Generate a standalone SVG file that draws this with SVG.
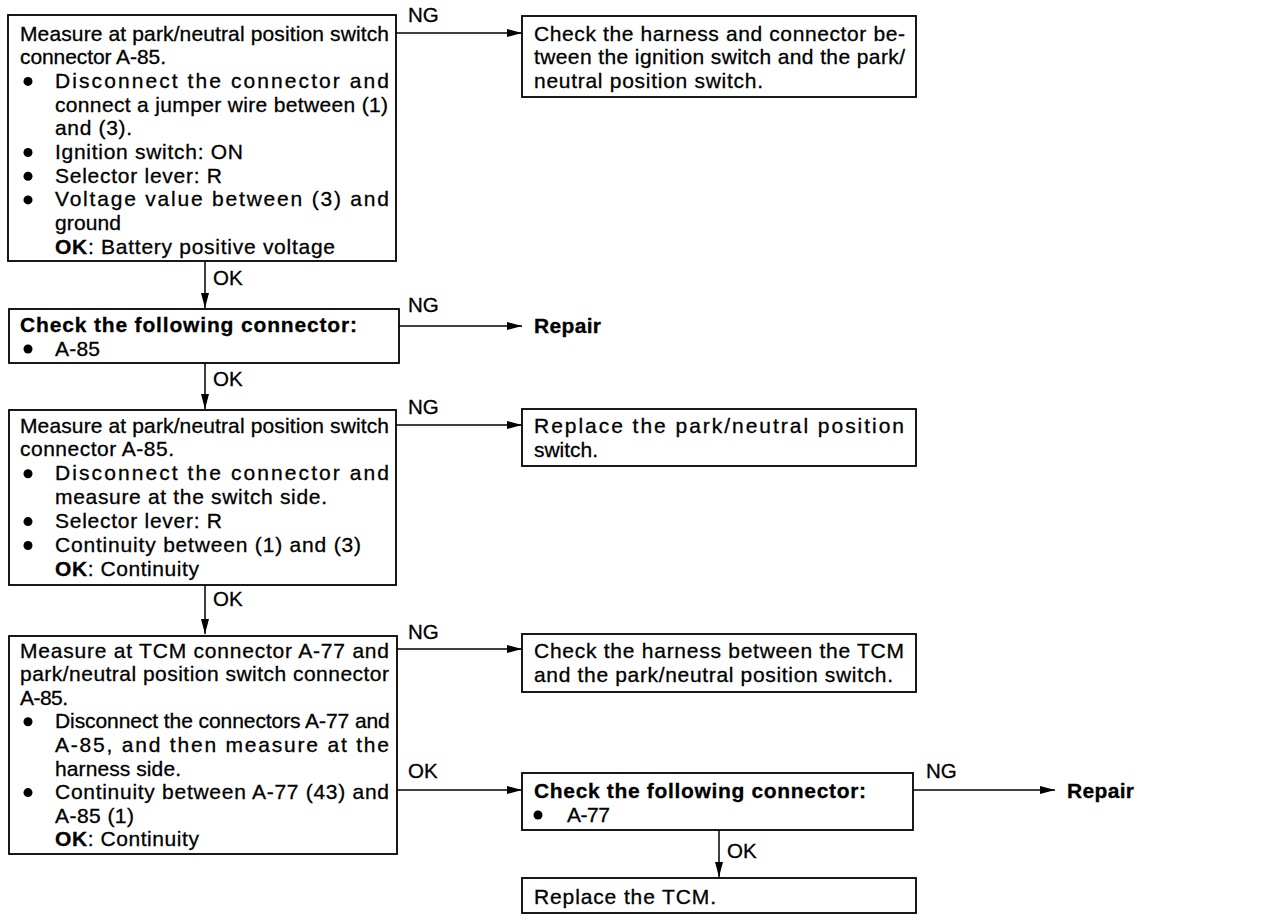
<svg xmlns="http://www.w3.org/2000/svg" width="1280" height="922" viewBox="0 0 1280 922">
<style>
.bg{fill:#fff}
.box{fill:#fff;stroke:#000;stroke-width:1.8}
.t{font-family:"Liberation Sans",Arial,Helvetica,sans-serif;font-size:21px;fill:#000;stroke:#000;stroke-width:0.3}
.b{font-weight:bold}
.lbl{font-family:"Liberation Sans",Arial,Helvetica,sans-serif;font-size:20.5px;fill:#000;stroke:#000;stroke-width:0.3}
.con{stroke:#000;stroke-width:1.5;fill:none;marker-end:url(#ah)}
.dot{fill:#000}
</style>
<defs>
<marker id="ah" markerWidth="16" markerHeight="10" refX="15" refY="5" orient="auto" markerUnits="userSpaceOnUse">
<path d="M0,1 L15,5 L0,9 z" fill="#000"/>
</marker>
</defs>
<rect class="bg" x="0" y="0" width="1280" height="922"/>

<g id="connectors">
<path class="con" d="M396,33 H522"/>
<path class="con" d="M205,261 V308"/>
<path class="con" d="M399,326 H522"/>
<path class="con" d="M205,363 V409"/>
<path class="con" d="M396,425 H522"/>
<path class="con" d="M205,585 V634"/>
<path class="con" d="M397,649 H522"/>
<path class="con" d="M397,790 H522"/>
<path class="con" d="M913,790 H1055"/>
<path class="con" d="M719,830 V877"/>
<text class="lbl" x="408" y="22">NG</text>
<text class="lbl" x="213" y="285">OK</text>
<text class="lbl" x="408" y="312">NG</text>
<text class="lbl" x="213" y="386">OK</text>
<text class="lbl" x="408" y="414">NG</text>
<text class="lbl" x="213" y="606">OK</text>
<text class="lbl" x="408" y="639">NG</text>
<text class="lbl" x="408" y="778">OK</text>
<text class="lbl" x="926" y="778">NG</text>
<text class="lbl" x="727" y="858">OK</text>
</g>

<g id="node-measure-voltage">
<rect class="box" x="8" y="15" width="388" height="246"/>
<text class="t" x="20" y="40.5" textLength="369" lengthAdjust="spacing">Measure at park/neutral position switch</text>
<text class="t" x="20" y="64.2" textLength="146" lengthAdjust="spacing">connector A-85.</text>
<circle class="dot" cx="28" cy="81.4" r="4.5"/>
<text class="t" x="55" y="87.9" textLength="334" lengthAdjust="spacing">Disconnect the connector and</text>
<text class="t" x="55" y="111.6" textLength="333" lengthAdjust="spacing">connect a jumper wire between (1)</text>
<text class="t" x="55" y="135.3" textLength="77" lengthAdjust="spacing">and (3).</text>
<circle class="dot" cx="28" cy="152.5" r="4.5"/>
<text class="t" x="55" y="159" textLength="188" lengthAdjust="spacing">Ignition switch: ON</text>
<circle class="dot" cx="28" cy="176.2" r="4.5"/>
<text class="t" x="55" y="182.7" textLength="167" lengthAdjust="spacing">Selector lever: R</text>
<circle class="dot" cx="28" cy="199.9" r="4.5"/>
<text class="t" x="55" y="206.4" textLength="334" lengthAdjust="spacing">Voltage value between (3) and</text>
<text class="t" x="55" y="230.1" textLength="66" lengthAdjust="spacing">ground</text>
<text class="t" x="55" y="253.8" textLength="280" lengthAdjust="spacing"><tspan class="b">OK</tspan>: Battery positive voltage</text>
</g>

<g id="node-check-harness-ign">
<rect class="box" x="522" y="16" width="394" height="81"/>
<text class="t" x="534" y="40.5" textLength="371" lengthAdjust="spacing">Check the harness and connector be-</text>
<text class="t" x="534" y="64" textLength="371" lengthAdjust="spacing">tween the ignition switch and the park/</text>
<text class="t" x="534" y="87.5" textLength="229" lengthAdjust="spacing">neutral position switch.</text>
</g>

<g id="node-check-a85">
<rect class="box" x="9" y="309" width="390" height="54"/>
<text class="t b" x="20" y="331.5" textLength="337" lengthAdjust="spacing">Check the following connector:</text>
<circle class="dot" cx="28" cy="349" r="4.5"/>
<text class="t" x="55" y="355.5" textLength="45" lengthAdjust="spacing">A-85</text>
</g>

<text class="t b" x="534" y="333" id="node-repair-1" textLength="67" lengthAdjust="spacing">Repair</text>

<g id="node-measure-continuity">
<rect class="box" x="9" y="410" width="387" height="175"/>
<text class="t" x="20" y="432.5" textLength="369" lengthAdjust="spacing">Measure at park/neutral position switch</text>
<text class="t" x="20" y="456.4" textLength="154" lengthAdjust="spacing">connector A-85.</text>
<circle class="dot" cx="28" cy="473.8" r="4.5"/>
<text class="t" x="55" y="480.3" textLength="334" lengthAdjust="spacing">Disconnect the connector and</text>
<text class="t" x="55" y="504.2" textLength="272" lengthAdjust="spacing">measure at the switch side.</text>
<circle class="dot" cx="28" cy="521.6" r="4.5"/>
<text class="t" x="55" y="528.1" textLength="167" lengthAdjust="spacing">Selector lever: R</text>
<circle class="dot" cx="28" cy="545.5" r="4.5"/>
<text class="t" x="55" y="552" textLength="306" lengthAdjust="spacing">Continuity between (1) and (3)</text>
<text class="t" x="55" y="576" textLength="144" lengthAdjust="spacing"><tspan class="b">OK</tspan>: Continuity</text>
</g>

<g id="node-replace-switch">
<rect class="box" x="522" y="409" width="394" height="57"/>
<text class="t" x="534" y="433" textLength="370" lengthAdjust="spacing">Replace the park/neutral position</text>
<text class="t" x="534" y="457" textLength="64" lengthAdjust="spacing">switch.</text>
</g>

<g id="node-measure-tcm">
<rect class="box" x="9" y="636" width="388" height="218"/>
<text class="t" x="20" y="657.5" textLength="369" lengthAdjust="spacing">Measure at TCM connector A-77 and</text>
<text class="t" x="20" y="681.1" textLength="369" lengthAdjust="spacing">park/neutral position switch connector</text>
<text class="t" x="20" y="704.7" textLength="48" lengthAdjust="spacing">A-85.</text>
<circle class="dot" cx="28" cy="721.8" r="4.5"/>
<text class="t" x="55" y="728.3" textLength="334" lengthAdjust="spacing" letter-spacing="-0.8">Disconnect the connectors A-77 and</text>
<text class="t" x="55" y="751.9" textLength="334" lengthAdjust="spacing">A-85, and then measure at the</text>
<text class="t" x="55" y="775.5" textLength="126" lengthAdjust="spacing">harness side.</text>
<circle class="dot" cx="28" cy="792.6" r="4.5"/>
<text class="t" x="55" y="799.1" textLength="334" lengthAdjust="spacing">Continuity between A-77 (43) and</text>
<text class="t" x="55" y="822.7" textLength="79" lengthAdjust="spacing">A-85 (1)</text>
<text class="t" x="55" y="846.3" textLength="144" lengthAdjust="spacing"><tspan class="b">OK</tspan>: Continuity</text>
</g>

<g id="node-check-harness-tcm">
<rect class="box" x="522" y="634" width="394" height="58"/>
<text class="t" x="534" y="658" textLength="370" lengthAdjust="spacing">Check the harness between the TCM</text>
<text class="t" x="534" y="682" textLength="359" lengthAdjust="spacing">and the park/neutral position switch.</text>
</g>

<g id="node-check-a77">
<rect class="box" x="522" y="773" width="391" height="57"/>
<text class="t b" x="534" y="797.5" textLength="332" lengthAdjust="spacing">Check the following connector:</text>
<circle class="dot" cx="538" cy="815" r="4.5"/>
<text class="t" x="567" y="821.5" textLength="43" lengthAdjust="spacing">A-77</text>
</g>

<text class="t b" x="1067" y="798" id="node-repair-2" textLength="67" lengthAdjust="spacing">Repair</text>

<g id="node-replace-tcm">
<rect class="box" x="522" y="878" width="394" height="35"/>
<text class="t" x="534" y="903.5" textLength="182" lengthAdjust="spacing">Replace the TCM.</text>
</g>
</svg>
